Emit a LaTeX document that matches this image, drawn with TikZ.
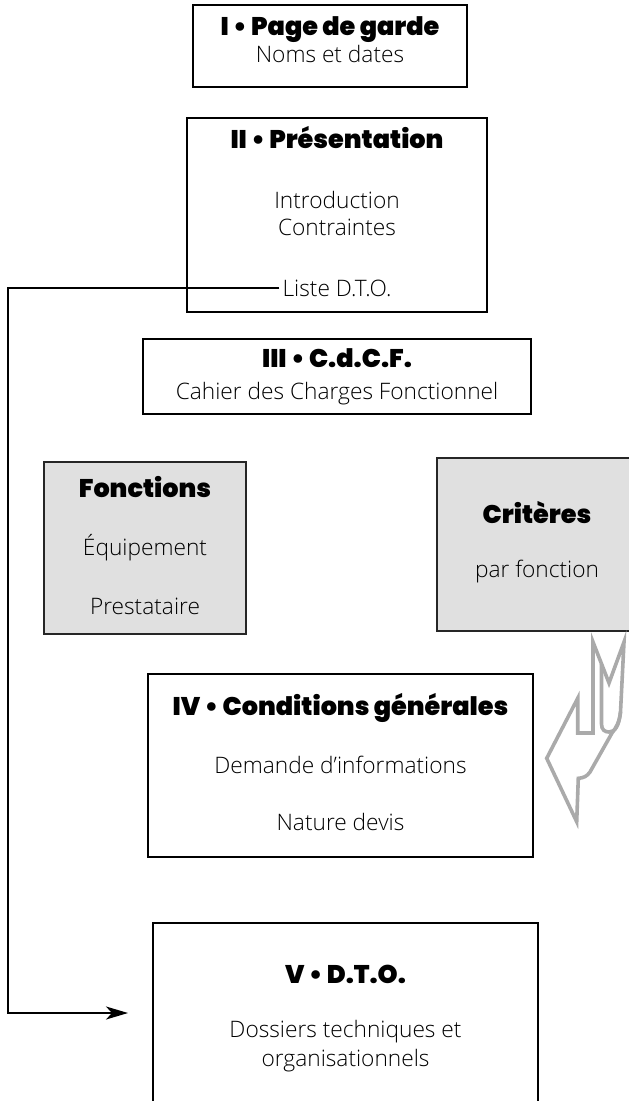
\documentclass[tikz,border=0pt]{standalone}
\usepackage{fontspec}
\setmainfont{Open Sans Light}
\newfontfamily\headfont{Poppins Black}
\usetikzlibrary{arrows.meta}
\definecolor{panelgray}{HTML}{E0E0E0}
\definecolor{ribbongray}{HTML}{AAAAAA}

\begin{document}
\begin{tikzpicture}[x=1pt,y=-1pt,
  box/.style={draw=black,line width=1.2pt,fill=white,inner sep=0pt},
  greybox/.style={draw=black!85,line width=1.2pt,fill=panelgray,inner sep=0pt},
  head/.style={anchor=base,inner sep=0pt,font=\headfont\fontsize{25.5}{30}\selectfont},
  body/.style={anchor=base,inner sep=0pt,font=\fontsize{22.7}{27}\selectfont},
  link/.style={line width=1.9pt},
  ribbon/.style={draw=ribbongray,line width=3.6pt,line join=miter},
]
\useasboundingbox (0,0) rectangle (629,1101);
\fill[white] (0,0) rectangle (629,1101);
\begin{scope}
\clip (0,0) rectangle (629,1101);

% frames
\node[box, minimum width=274pt, minimum height=82pt]  (b1) at (330,46) {};
\node[box, minimum width=300pt, minimum height=194pt] (b2) at (337,215) {};
\node[box, minimum width=388pt, minimum height=75pt]  (b3) at (337,376.5) {};
\node[greybox, minimum width=202pt, minimum height=172pt] (bf) at (145,548) {};
\node[greybox, minimum width=201pt, minimum height=173pt] (bc) at (537.5,544.5) {};
\node[box, minimum width=385pt, minimum height=183pt] (b4) at (340.5,765.5) {};
\node[box, minimum width=385pt, minimum height=197pt] (b5) at (345.5,1021.5) {};

% I
\node[head] (t1h) at (330,35) {I • Page de garde};
\node[body] (t1b) at (330,62) {Noms et dates};
% II
\node[head] (t2h) at (337,148) {II • Présentation};
\node[body] (t2a) at (337,208) {Introduction};
\node[body] (t2b) at (337,235) {Contraintes};
\node[body] (t2c) at (337,296) {Liste D.T.O.};
% III
\node[head] (t3h) at (337,367) {III • C.d.C.F.};
\node[body] (t3b) at (337,399) {Cahier des Charges Fonctionnel};
% functions / criteria
\node[head] (tfh) at (145,497) {Fonctions};
\node[body] (tfa) at (145,555) {Équipement};
\node[body] (tfb) at (145,614) {Prestataire};
\node[head] (tch) at (537,523) {Critères};
\node[body] (tcb) at (537,577) {par fonction};
% IV
\node[head] (t4h) at (340.5,715) {IV • Conditions générales};
\node[body] (t4a) at (340.5,773) {Demande d’informations};
\node[body] (t4b) at (340.5,830) {Nature devis};
% V
\node[head] (t5h) at (345.5,983) {V • D.T.O.};
\node[body] (t5a) at (345.5,1037) {Dossiers techniques et};
\node[body] (t5b) at (345.5,1066) {organisationnels};

% link from the D.T.O. list to part V
\coordinate (rail) at (11,0);
\coordinate (entry) at (128,1013);
\draw[link,-{Stealth[length=22pt,width=13pt,inset=6pt]}]
  ([xshift=-3pt]t2c.west) -- ([xshift=-3pt]t2c.west -| rail) |- (entry);

% folded ribbon arrow
\draw[ribbon] (593,733) -- (593,642) -- (609,683) -- (624,642)
  -- (620.5,712) .. controls (619.5,722) and (616,728) .. (612,733)
  -- (590,772) .. controls (587,776.5) and (583,778) .. (578.3,778.3)
  -- (576.7,821.7) -- (546.7,758.3) -- (577.7,698.3) -- (577.7,733) -- cycle;
\draw[ribbon] (601.5,664) -- (601.5,724)
  .. controls (601.5,730) and (605,732) .. (609,732)
  .. controls (615,732) and (619,726) .. (620.5,712);
\end{scope}
\end{tikzpicture}
\end{document}
